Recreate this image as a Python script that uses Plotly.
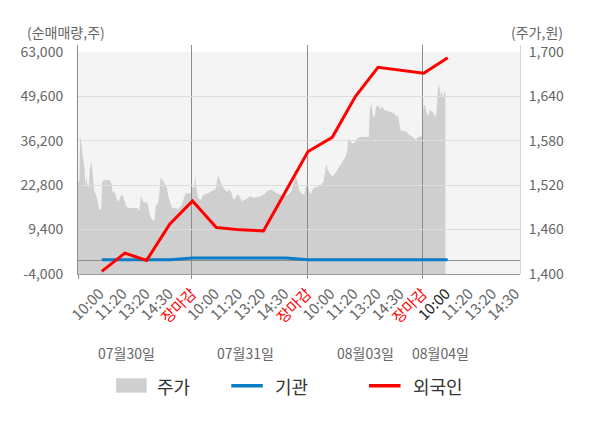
import plotly.graph_objects as go

# x positions are in "slot" units: one slot per time label, five slots per trading day
day_names = ["07월30일", "07월31일", "08월03일", "08월04일"]
time_labels = ["10:00", "11:20", "13:20", "14:30", "장마감"]
series_names = ["주가", "기관", "외국인"]

# net buying volume (shares)
flow_x = [1.1, 2.1, 3.04, 4.04, 5.03, 6.06, 7.1, 8.1, 9.07, 10.03, 11.08, 12.08, 13.06, 14.05, 15.04, 16.08]
inst_net = [300, 300, 300, 300, 800, 800, 800, 800, 800, 300, 300, 300, 300, 300, 300, 300]
foreign_net = [-3200, 2300, 100, 11000, 18000, 10000, 9300, 9000, 21000, 32900,
               37200, 49500, 58300, 57400, 56500, 61200]

# share price (won)
price_x = [0.07, 0.13, 0.16, 0.20, 0.25, 0.30, 0.35, 0.39, 0.42, 0.48, 0.53, 0.59, 0.65, 0.71,
           0.78, 0.85, 0.92, 0.99, 1.08, 1.11, 1.19, 1.42, 1.51, 1.57, 1.65, 1.74, 1.83, 1.91,
           2.00, 2.08, 2.17, 2.26, 2.65, 2.72, 2.80, 2.89, 3.08, 3.15, 3.23, 3.32, 3.38, 3.44,
           3.52, 3.58, 3.65, 3.72, 3.84, 3.92, 3.98, 4.07, 4.15, 4.41, 4.53, 4.64, 4.73, 4.96,
           5.02, 5.10, 5.15, 5.19, 5.27, 5.39, 5.50, 5.68, 5.85, 6.02, 6.14, 6.22, 6.31, 6.42,
           6.54, 6.63, 6.71, 6.80, 6.88, 6.97, 7.06, 7.17, 7.29, 7.40, 7.52, 7.69, 7.98, 8.15,
           8.26, 8.44, 8.62, 8.84, 9.13, 9.30, 9.41, 9.48, 9.56, 9.64, 9.76, 9.87, 9.93, 9.99,
           10.04, 10.10, 10.16, 10.25, 10.45, 10.59, 10.71, 10.76, 10.82, 10.88, 10.99, 11.09,
           11.19, 11.31, 11.42, 11.54, 11.65, 11.73, 11.77, 11.85, 11.94, 12.06, 12.14, 12.26,
           12.66, 12.70, 12.77, 12.83, 12.89, 12.98, 13.06, 13.15, 13.23, 13.35, 13.61, 13.78,
           13.87, 13.92, 13.98, 14.04, 14.30, 14.41, 14.56, 14.70, 14.79, 14.99, 15.03, 15.10,
           15.16, 15.23, 15.29, 15.42, 15.50, 15.56, 15.60, 15.65, 15.71, 15.76, 15.82, 15.88,
           15.93, 15.98]
price = [1525, 1525, 1585, 1581, 1565, 1556, 1543, 1518, 1532, 1520, 1516, 1543, 1552, 1534,
         1511, 1507, 1500, 1487, 1487, 1523, 1527, 1527, 1523, 1511, 1511, 1502, 1497, 1505,
         1507, 1499, 1491, 1489, 1489, 1485, 1506, 1497, 1496, 1485, 1475, 1472, 1473, 1493,
         1494, 1505, 1530, 1527, 1521, 1517, 1505, 1496, 1489, 1488, 1492, 1501, 1509, 1509,
         1518, 1516, 1532, 1518, 1503, 1500, 1507, 1509, 1511, 1514, 1533, 1527, 1519, 1514,
         1511, 1514, 1510, 1501, 1502, 1508, 1505, 1498, 1500, 1502, 1505, 1503, 1505, 1508,
         1512, 1514, 1510, 1507, 1506, 1511, 1523, 1532, 1527, 1514, 1508, 1507, 1517, 1523,
         1517, 1510, 1508, 1516, 1518, 1520, 1525, 1536, 1549, 1541, 1535, 1532,
         1535, 1541, 1547, 1554, 1558, 1567, 1582, 1580, 1576, 1577, 1582, 1585,
         1585, 1619, 1631, 1616, 1610, 1625, 1628, 1622, 1626, 1621, 1619, 1616,
         1612, 1615, 1603, 1594, 1592, 1588, 1585, 1581, 1585, 1586, 1626, 1628,
         1618, 1612, 1621, 1619, 1615, 1611, 1621, 1648, 1657, 1640, 1647, 1637,
         1646, 1643]

left_ticks = [-4000, 9400, 22800, 36200, 49600, 63000]
right_ticks = [1400, 1460, 1520, 1580, 1640, 1700]

# x tick labels: 장마감 in red, today's 10:00 darker
tick_text = []
for d in range(len(day_names)):
    for i, t in enumerate(time_labels):
        if d == len(day_names) - 1 and i == len(time_labels) - 1:
            break
        if t == "장마감":
            tick_text.append(f'<span style="color:#ff0000">{t}</span>')
        elif d == len(day_names) - 1 and i == 0:
            tick_text.append(f'<span style="color:#222222">{t}</span>')
        else:
            tick_text.append(t)
tick_vals = list(range(1, len(tick_text) + 1))

gray_area = "#cfcfcf"
blue = "#0b7cc5"
red = "#ff0000"
xr = [0.07, 19.21]

fig = go.Figure()
# price area sits on its own subplot (x, y) so the grid of the flow subplot is drawn over it
fig.add_trace(go.Scatter(x=price_x, y=price, xaxis="x", yaxis="y", mode="lines",
                         fill="tozeroy", fillcolor=gray_area, line=dict(width=0),
                         name=series_names[0], showlegend=False, hoverinfo="skip"))
fig.add_trace(go.Scatter(x=flow_x, y=inst_net, xaxis="x2", yaxis="y2", mode="lines",
                         line=dict(color=blue, width=3), name=series_names[1], showlegend=False))
fig.add_trace(go.Scatter(x=flow_x, y=foreign_net, xaxis="x2", yaxis="y2", mode="lines",
                         line=dict(color=red, width=3), name=series_names[2], showlegend=False))

axis_font = dict(family="Noto Sans CJK KR", size=14, color="#666666")

# the page body adds an 8px margin, so the figure is 8px smaller than the window
fig.update_layout(
    width=592, height=420, autosize=False,
    margin=dict(l=68, r=80, t=37, b=154),
    paper_bgcolor="white", plot_bgcolor="rgba(0,0,0,0)",
    font=dict(family="Noto Sans CJK KR", color="#666666"),
    showlegend=False,
    xaxis=dict(range=xr, visible=False, anchor="y"),
    yaxis=dict(range=[1400, 1709.0], side="right", anchor="x",
               tickmode="array", tickvals=right_ticks,
               ticktext=[f"{v:,}" for v in right_ticks],
               showgrid=False, zeroline=False, showline=True, linecolor="#d4d4d4",
               ticks="", tickfont=axis_font, ticklabelstandoff=5),
    xaxis2=dict(range=xr, anchor="y2", tickmode="array", tickvals=tick_vals, ticktext=tick_text,
                tickangle=-45, ticks="", showgrid=False, zeroline=False,
                showline=True, linecolor="#999999", ticklabelstandoff=4,
                tickfont=dict(family="Noto Sans CJK KR", size=15, color="#666666"),
                minor=dict(tickmode="array", tickvals=[0.07, 5, 10, 15], showgrid=True,
                           gridcolor="#8c8c8c", gridwidth=1, ticks="outside", ticklen=4,
                           tickcolor="#8c8c8c")),
    yaxis2=dict(range=[-4000, 65020], anchor="x2", side="left",
                tickmode="array", tickvals=left_ticks,
                ticktext=[f"{v:,}" for v in left_ticks],
                showgrid=False, zeroline=True, zerolinecolor="#8c8c8c", zerolinewidth=1,
                showline=True, linecolor="#8c8c8c", ticks="", tickfont=axis_font,
                ticklabelstandoff=11,
                minor=dict(tickmode="array", tickvals=left_ticks[1:-1], showgrid=True,
                           gridcolor="#dcdcdc", gridwidth=1, ticks="")),
)

# plot background only under the value range
fig.add_shape(type="rect", xref="paper", yref="y", x0=0, x1=1, y0=1400, y1=1700,
              fillcolor="#f4f4f4", line=dict(width=0), layer="below")

# axis unit captions
fig.add_annotation(text="(순매매량,주)", xref="paper", yref="paper", x=-0.12, y=1.055,
                   xanchor="left", yanchor="middle", showarrow=False,
                   font=dict(size=14, color="#666666"))
fig.add_annotation(text="(주가,원)", xref="paper", yref="paper", x=0.975, y=1.055,
                   xanchor="left", yanchor="middle", showarrow=False,
                   font=dict(size=14, color="#666666"))

# day labels under the time ticks
day_label_pos = [2.19, 7.34, 12.53, 15.78]
for name, pos in zip(day_names, day_label_pos):
    fig.add_annotation(text=name, xref="x2", yref="paper", x=pos, y=-0.345,
                       xanchor="center", yanchor="middle", showarrow=False,
                       font=dict(size=14, color="#666666"))

# hand-drawn legend
leg_y = -0.488
fig.add_shape(type="rect", xref="paper", yref="paper", x0=0.0863, x1=0.1554,
              y0=-0.5183, y1=-0.4555, fillcolor=gray_area, line=dict(width=0))
fig.add_shape(type="line", xref="paper", yref="paper", x0=0.3468, x1=0.4182,
              y0=leg_y, y1=leg_y, line=dict(color=blue, width=3.5))
fig.add_shape(type="line", xref="paper", yref="paper", x0=0.6583, x1=0.7297,
              y0=leg_y, y1=leg_y, line=dict(color=red, width=3.5))
for name, lx in zip(series_names, [0.174, 0.4408, 0.7523]):
    fig.add_annotation(text=name, xref="paper", yref="paper", x=lx, y=leg_y,
                       xanchor="left", yanchor="middle", showarrow=False,
                       font=dict(size=18, color="#333333"))

fig.write_html("out.html")
